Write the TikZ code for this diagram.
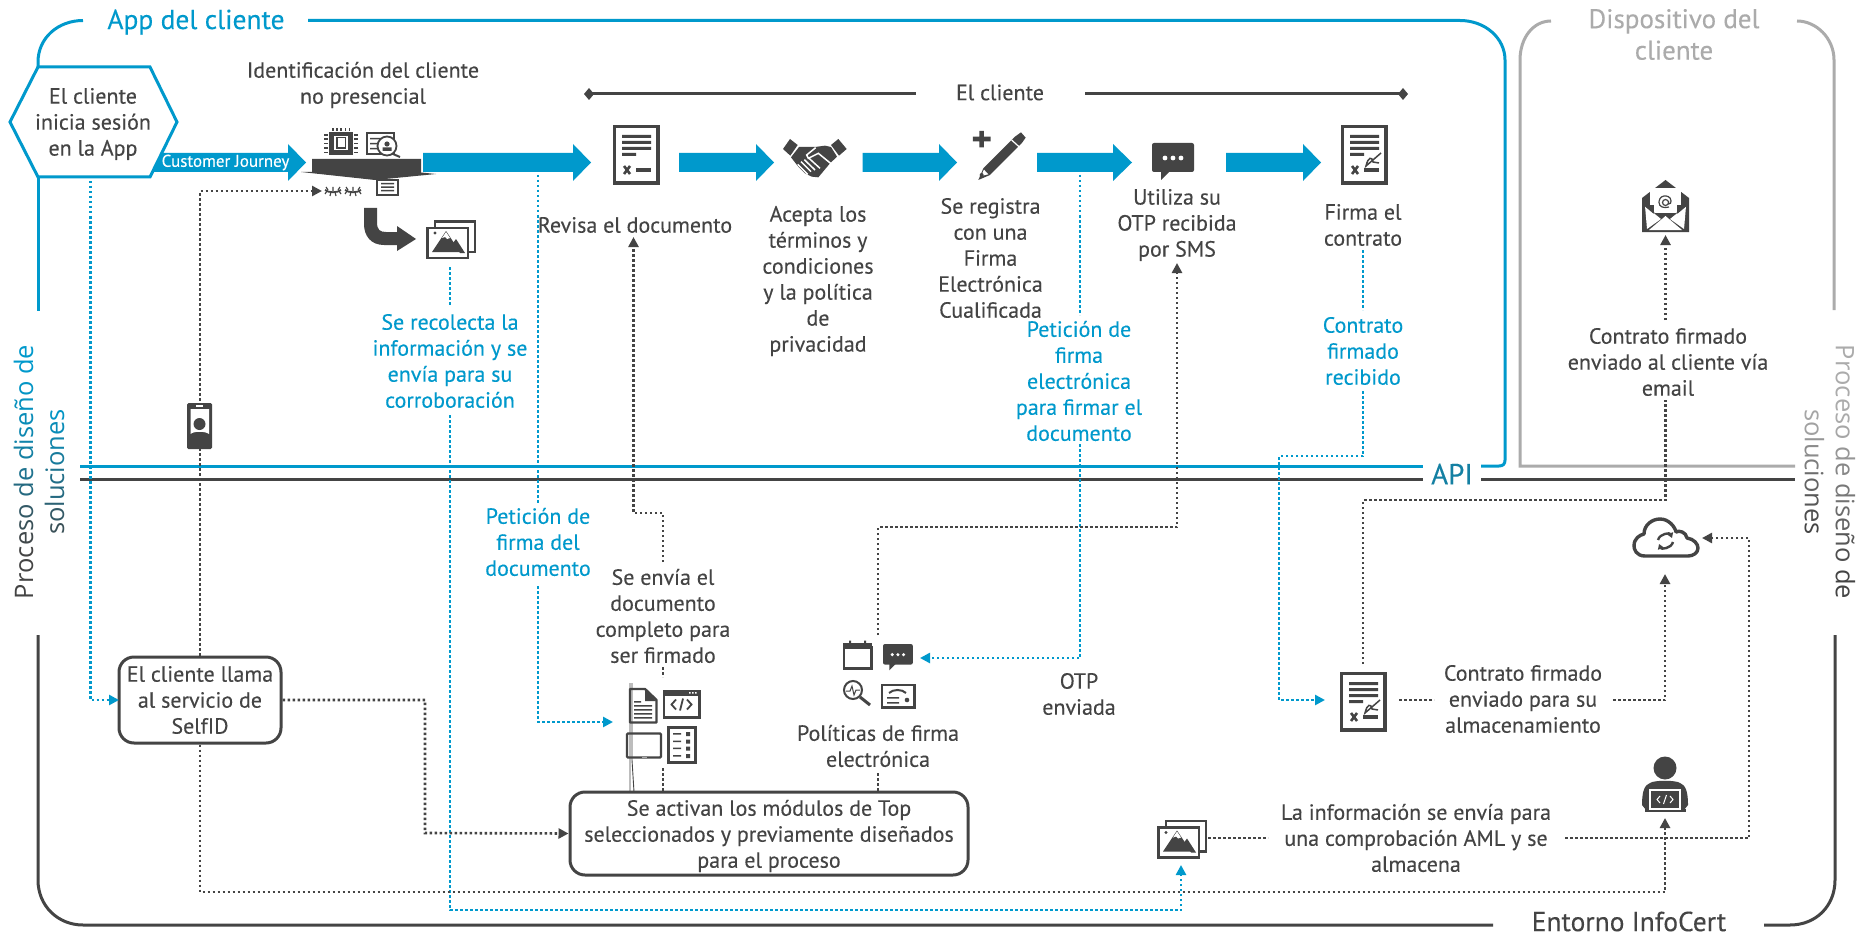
\documentclass[tikz,border=0pt]{standalone}
\usepackage{fontspec}
\setmainfont[FakeBold=0.2]{PT Sans}
\newfontfamily\labfont{Open Sans}
\usetikzlibrary{arrows.meta}
\definecolor{bl}{HTML}{0099CC}
\definecolor{dk}{HTML}{444444}
\definecolor{gy}{HTML}{ABABAB}
\newcommand{\gl}[2]{\textcolor{bl!#1!dk}{#2}}
\newcommand{\gr}[2]{\textcolor{dk!#1!gy}{#2}}
\newcommand{\bigarrow}[3]{\fill[bl] (#1,153)--(#2,153)--(#2,144)--(#3,162.5)--(#2,181)--(#2,172)--(#1,172)--cycle;}
\tikzset{
  x=1pt,y=-1pt,
  txt/.style={align=center,text=dk,font=\fontsize{22}{26}\selectfont,inner sep=0pt,yshift=0pt},
  btxt/.style={txt,text=bl},
  gtxt/.style={txt,text=gy,font=\fontsize{27}{31.5}\selectfont},
  roundbox/.style={draw=dk,line width=3pt,rounded corners=15pt,fill=white},
  bluedot/.style={draw=bl,line width=2.6pt,dash pattern=on 2.5pt off 2.5pt},
  darkdot/.style={draw=dk,line width=2.6pt,dash pattern=on 2.5pt off 2.5pt},
  tipdot/.style={-{Triangle[length=10pt,width=10pt]}},
  frameb/.style={draw=bl,line width=3pt},
  framed/.style={draw=dk,line width=3pt},
  frameg/.style={draw=gy,line width=3pt},
  ic/.style={draw=dk,line width=2.6pt},
  icf/.style={fill=dk},
  docicon/.pic={
    \draw[ic,line width=3.2pt] (1.6,1.6) rectangle (45,58);
    \fill[dk] (9,10) rectangle (38,13) (9,16) rectangle (38,19) (9,22) rectangle (38,25) (9,28) rectangle (23,31);
    \draw[dk,line width=2.6pt] (11,41)--(17,49) (17,41)--(11,49);
    \fill[dk] (23,43) rectangle (38,47);
  },
  signicon/.pic={
    \draw[ic,line width=3.2pt] (1.6,1.6) rectangle (45,58);
    \fill[dk] (9,10) rectangle (38,13) (9,16) rectangle (38,19) (9,22) rectangle (38,25) (9,28) rectangle (23,31);
    \draw[dk,line width=2.6pt] (11,41)--(17,49) (17,41)--(11,49);
    \fill[dk] (23,43) rectangle (38,47);
    \draw[dk,line width=1.5pt] (40,28)--(25,41) .. controls (27,32) and (31,31) .. (32,37) -- (38,38);
  },
  imgicon/.pic={
    \draw[ic] (9,1.3) rectangle (49,32);
    \draw[ic,fill=white] (1.3,8) rectangle (42,38);
    \fill[dk] (6,32)--(20,11)--(34,32)--cycle;
    \fill[white] (20,12)--(16,18)--(19,17)--(21,19)--(24,18)--cycle;
    \fill[dk] (30,19)--(39,33)--(34,33)--(27,23)--cycle;
    \fill[dk] (9,13) circle (1.7);
  },
  chaticon/.pic={
    \fill[dk,rounded corners=2pt] (0,0) rectangle (42,29);
    \fill[dk] (9,28)--(18,28)--(9,37)--cycle;
    \fill[white] (13,15) circle (2.4) (21,15) circle (2.4) (29,15) circle (2.4);
  },
}
\begin{document}
\begin{tikzpicture}
\useasboundingbox (0,0) rectangle (1857,936);
\fill[white] (0,0) rectangle (1857,936);

% frames
\draw[frameb] (83,20.5) .. controls (58,20.5) and (38,38) .. (38,62) -- (38,67);
\draw[frameb] (38,177) -- (38,311);
\draw[frameb] (308,20.5) -- (1460,20.5) .. controls (1485,20.5) and (1505,38) .. (1505,60) -- (1505,460) .. controls (1505,464) and (1503,466) .. (1499,466) -- (1481,466);
\draw[frameb] (80,466) -- (1423,466);
\draw[framed] (80,479.5) -- (1423,479.5);
\draw[framed] (1481,479.5) -- (1795,479.5);
\draw[frameg] (1551,21) .. controls (1533,21) and (1520,38) .. (1520,60) -- (1520,466) -- (1795,466);
\draw[frameg] (1797,21) .. controls (1816,21) and (1834,38) .. (1834,60) -- (1834,310);
\draw[framed] (38,635) -- (38,880) .. controls (38,906) and (58,925) .. (83,925) -- (1493,925);
\draw[framed] (1764,925) -- (1790,925) .. controls (1816,925) and (1835,906) .. (1835,880) -- (1835,635);
\draw[framed] (589,94) -- (916,94);
\draw[framed] (1085,94) -- (1403,94);
\fill[dk] (584,94)--(589,88)--(594,94)--(589,100)--cycle;
\fill[dk] (1398,94)--(1403,88)--(1408,94)--(1403,100)--cycle;

% block arrows
\bigarrow{150}{288}{306}
\bigarrow{423}{573}{591}
\bigarrow{679}{756}{774}
\bigarrow{862.5}{939}{957}
\bigarrow{1037}{1113}{1132}
\bigarrow{1226}{1303}{1321}

% named connector points
\coordinate (hexs) at (90.5,181);
\coordinate (hexw) at (90.5,700);
\coordinate (boxw) at (119,700);
\coordinate (imgs) at (450,267);
\coordinate (imgt) at (450,305);
\coordinate (recb) at (450,415);
\coordinate (recc) at (450,910);
\coordinate (imgr) at (1181,910);
\coordinate (imgb) at (1181,865);
\coordinate (arra) at (538,175);
\coordinate (arrb) at (538,503);
\coordinate (peta) at (538,586);
\coordinate (petb) at (538,722);
\coordinate (doct) at (613,722);
\coordinate (arrc) at (1080,175);
\coordinate (arrd) at (1080,315);
\coordinate (pfa) at (1080,444);
\coordinate (pfb) at (1080,658);
\coordinate (chatr) at (920,658);
\coordinate (fira) at (1363,250);
\coordinate (firb) at (1363,310);
\coordinate (cra) at (1363,391);
\coordinate (crb) at (1363,456);
\coordinate (crc) at (1279,456);
\coordinate (crd) at (1279,700);
\coordinate (sigl) at (1325,700);
\coordinate (eyel) at (322,191);
\coordinate (eyec) at (200,191);
\coordinate (boxec) at (425,700);
\coordinate (boxed) at (425,833);
\coordinate (boxs) at (200,892);
\coordinate (perc) at (1665,892);
\coordinate (perb) at (1665,818);
\coordinate (enva) at (663,562);
\coordinate (envb) at (663,513);
\coordinate (envc) at (633.5,513);
\coordinate (revb) at (633.5,237);
\coordinate (enve) at (663,667);
\coordinate (envf) at (663,677);
\coordinate (modt) at (663,768);
\coordinate (modb) at (663,792);
\coordinate (cala) at (878,635);
\coordinate (calb) at (878,527);
\coordinate (calc) at (1177,527);
\coordinate (otpb) at (1177,263);
\coordinate (pola) at (878,773);
\coordinate (polb) at (878,792);
\coordinate (siga) at (1363,664);
\coordinate (sigb) at (1363,500);
\coordinate (sigc) at (1665.5,500);
\coordinate (sigd) at (1665.5,400);
\coordinate (cfa) at (1665.5,320);
\coordinate (envl) at (1665.5,235);
\coordinate (csa) at (1399,700);
\coordinate (csb) at (1434,700);
\coordinate (csc) at (1613,700);
\coordinate (csd) at (1665,700);
\coordinate (cloudb) at (1665,574);
\coordinate (aia) at (1208,838);
\coordinate (aib) at (1268,838);
\coordinate (aic) at (1565,838);
\coordinate (aid) at (1749,838);
\coordinate (aie) at (1749,538);
\coordinate (cloudr) at (1702,538);

% boxes
\node[roundbox,minimum width=162pt,minimum height=86pt,inner sep=0pt] (selfid) at (200,700) {};
\node[roundbox,minimum width=398pt,minimum height=83pt,inner sep=0pt] (modulos) at (769,833.5) {};

% dotted connectors
\draw[bluedot,tipdot] (hexs) -- (hexw) -- (boxw);
\draw[bluedot] (imgs) -- (imgt);
\draw[bluedot,tipdot] (recb) -- (recc) -- (imgr) -- (imgb);
\draw[bluedot] (arra) -- (arrb);
\draw[bluedot,tipdot] (peta) -- (petb) -- (doct);
\draw[bluedot] (arrc) -- (arrd);
\draw[bluedot,tipdot] (pfa) -- (pfb) -- (chatr);
\draw[bluedot] (fira) -- (firb);
\draw[bluedot,tipdot] (cra) -- (crb) -- (crc) -- (crd) -- (sigl);
\draw[darkdot,tipdot] (selfid.north) -- (eyec) -- (eyel);
\draw[darkdot,tipdot] (selfid.east) -- (boxec) -- (boxed) -- (modulos.west);
\draw[darkdot,tipdot] (selfid.south) -- (boxs) -- (perc) -- (perb);
\draw[darkdot,tipdot] (enva) -- (envb) -- (envc) -- (revb);
\draw[darkdot] (enve) -- (envf);
\draw[darkdot] (modt) -- (modb);
\draw[darkdot,tipdot] (cala) -- (calb) -- (calc) -- (otpb);
\draw[darkdot] (pola) -- (polb);
\draw[darkdot] (siga) -- (sigb) -- (sigc) -- (sigd);
\draw[darkdot,tipdot] (cfa) -- (envl);
\draw[darkdot] (csa) -- (csb);
\draw[darkdot,tipdot] (csc) -- (csd) -- (cloudb);
\draw[darkdot] (aia) -- (aib);
\draw[darkdot,tipdot] (aic) -- (aid) -- (aie) -- (cloudr);

% hexagon
\draw[frameb,fill=white,line join=miter] (10,122)--(38,67)--(150,67)--(177,122)--(150,177)--(38,177)--cycle;

% --- icons ---
% identification cluster
\begin{scope}
\fill[dk] (329,132) rectangle (353,155);
\draw[white,line width=1.4pt] (335,137) rectangle (347,149);
\fill[dk] (336,137) rectangle (346,149);
\fill[white] (337.5,138.5) rectangle (345,147.5);
\foreach \k in {0,1,2,3,4} {
  \fill[dk] ({332+\k*4.2},128) rectangle ({333.6+\k*4.2},131);
  \fill[dk] (324,{134+\k*4.4}) rectangle (328,{135.6+\k*4.4});
  \fill[dk] (354,{134+\k*4.4}) rectangle (358,{135.6+\k*4.4});
}
\draw[dk,line width=1.8pt] (367,133) rectangle (394,154);
\fill[dk] (370,138) rectangle (382,139.5) (370,143) rectangle (379,144.5) (370,148) rectangle (379,149.5);
\draw[dk,line width=1.8pt,fill=white] (387,146) circle (9.5);
\fill[dk] (387,144) circle (2.6) (382.5,151) rectangle (391.5,147.5);
\draw[dk,line width=2pt] (393,154)--(400,157);
\draw[dk,line width=1.6pt] (377,180) rectangle (398,195);
\fill[dk] (381,183) rectangle (394,184.5) (381,186.5) rectangle (394,188) (381,190) rectangle (394,191.5);
\foreach \c in {333,353} {
  \draw[dk,line width=1.8pt] (\c-8,190) .. controls (\c-4,193) and (\c+4,193) .. (\c+8,190);
  \draw[dk,line width=1.2pt] (\c-6,191)--(\c-8,194) (\c-2,192)--(\c-3,196) (\c+2,192)--(\c+3,196) (\c+6,191)--(\c+8,194) (\c-5,190)--(\c-7,187) (\c+5,190)--(\c+7,187) (\c,191)--(\c,187);
}
\fill[dk] (312,159)--(421,159)--(421,172.5)--(436,174)--(375,180)--(301,172)--(312,172)--cycle;
\fill[dk] (364,208)--(377,208)--(377,222) .. controls (377,230) and (380,232) .. (386,232)--(397,232)--(397,226)--(416,239)--(397,251)--(397,245)--(384,245) .. controls (371,245) and (364,236) .. (364,224) -- cycle;
\end{scope}
\pic at (426,220) {imgicon};
\pic at (1157,819.5) {imgicon};
\pic at (613,125) {docicon};
\pic at (1341,125) {signicon};
\pic at (1340,672) {signicon};
\pic at (1152,143) {chaticon};

% handshake
\begin{scope}[shift={(775,125)},x=0.3333pt,y=-0.3333pt]
\fill[dk] (45,42)--(68,60)--(46,92)--(24,72)--cycle;
\fill[dk] (190,42)--(168,60)--(192,92)--(215,72)--cycle;
\fill[dk] (72,66)--(120,66)--(150,62)--(168,66)--(186,95)--(165,115)--(130,157)--(110,155)--(90,145)--(70,125)--(62,115)--(48,97)--cycle;
\draw[white,line width=1.5pt] (122,68)--(95,90)--(100,100)--(130,85)--(168,116);
\draw[white,line width=1.5pt] (78,110)--(108,140) (88,104)--(120,135) (100,98)--(135,130) (68,118)--(98,148);
\end{scope}
% pencil and plus
\begin{scope}[shift={(775,125)},x=0.3333pt,y=-0.3333pt]
\fill[dk] (610,165)--(625,130)--(720,35)--(738,22)--(752,38)--(740,55)--(645,150)--cycle;
\draw[white,line width=1.2pt] (710,45)--(735,68);
\fill[white] (618,153)--(627,134)--(640,148)--cycle;
\fill[dk] (620,150) circle (6);
\fill[dk] (613,18) rectangle (627,67) (594,35) rectangle (647,49);
\end{scope}
% phone
\fill[dk,rounded corners=1.5pt] (187,403) rectangle (212,449);
\fill[white] (190.5,409) -- (209,409) -- (209,434) .. controls (205,431) and (194,431) .. (190.5,434) -- cycle;
\fill[dk] (199.5,424) circle (6);
\fill[white] (196,404.5) rectangle (203,406.5);
% modules cluster
\draw[dk,line width=0.9pt] (630,683)--(630,792) (632,683)--(632,760)--(634,792);
\draw[dk,line width=2.4pt,line join=round] (630,689)--(645,689)--(656.5,700)--(656.5,722.5)--(630,722.5)--cycle;
\fill[dk] (645,689)--(645,701)--(656,701)--cycle;
\fill[dk] (634,701) rectangle (641,702.5) (634,705) rectangle (652,706.5) (634,709) rectangle (652,710.5) (634,713) rectangle (652,714.5) (634,717) rectangle (652,718.5);
\draw[ic,line width=2.4pt] (664,691) rectangle (699.5,717.5);
\fill[dk] (664,690) rectangle (699.5,695.5);
\fill[white] (689,692) rectangle (690.5,693.5) (692,692) rectangle (693.5,693.5) (695,692) rectangle (696.5,693.5);
\draw[dk,line width=1.8pt] (676,699.5)--(671.5,704.5)--(676,709.5) (687,699.5)--(691.5,704.5)--(687,709.5) (683,698.5)--(680,710.5);
\draw[dk,line width=2.4pt,rounded corners=1pt] (627,733.5) rectangle (661,757.5);
\fill[gy] (642,756.5) rectangle (647,758);
\draw[ic,line width=2.4pt] (668.5,727.5) rectangle (695.5,762.5);
\fill[dk] (673,733) rectangle (681,734.5) (673,740.5) rectangle (681,742) (673,747.5) rectangle (681,749) (673,755) rectangle (681,756.5);
\fill[dk] (686,732) rectangle (690,736) (686,739.5) rectangle (690,743.5) (686,746.5) rectangle (690,750.5) (686,754) rectangle (690,758);
% policy cluster
\draw[ic,line width=2.4pt] (844,647) rectangle (871.5,668.5);
\fill[dk] (843,643) rectangle (872,648.5);
\fill[dk] (849,640.5) rectangle (851,645) (864,640.5) rectangle (866,645);
\pic[scale=0.71] at (883,644) {chaticon};
\draw[dk,line width=2pt] (853,690) circle (9);
\draw[dk,line width=1pt] (846,691)--(850,691)--(852,686)--(854,695)--(856,690)--(860,690);
\draw[dk,line width=3pt] (860,697)--(870,705);
\draw[ic,line width=2.4pt] (882,685) rectangle (914.5,707.5);
\draw[dk,line width=2pt] (889,693) .. controls (893,689) and (902,689) .. (906,693);
\fill[dk] (887,697) rectangle (899,698.5) (887,702) rectangle (899,703.5);
\fill[dk] (907,700) circle (2.3);
% email
\fill[dk] (1642,198)--(1665.5,180)--(1689,198)--(1689,232)--(1642,232)--cycle;
\fill[white] (1650,188) rectangle (1681,205);
\fill[white] (1654,189) rectangle (1677,213);
\fill[white] (1645,206)--(1661,219)--(1647,229)--cycle (1686,206)--(1670,219)--(1684,229)--cycle;
\fill[white] (1649,230)--(1665.5,216)--(1682,230)--cycle;
\draw[dk,line width=1.6pt] (1645,205.5)--(1654,213) (1686,205.5)--(1677,213);
\draw[dk,line width=1.2pt] (1665.5,202.5) circle (3) (1668.5,201)--(1668.5,204) .. controls (1670.5,205) and (1671,202) .. (1671,201) .. controls (1671,196.5) and (1666,195.5) .. (1664,196) .. controls (1659.5,196.5) and (1659,201) .. (1659,202.5) .. controls (1659,207) and (1664,208.5) .. (1669,207);
% cloud
\draw[dk,line width=3.4pt,fill=white,line join=round] (1645,556) .. controls (1636,556) and (1634,549) .. (1634,546) .. controls (1634,538) and (1640,535) .. (1644,534) .. controls (1644,525) and (1652,519) .. (1660,519) .. controls (1669,519) and (1675,527) .. (1676,532) .. controls (1679,530) and (1686,532) .. (1687,538) .. controls (1694,539) and (1698,544) .. (1698,548) .. controls (1698,553) and (1693,556) .. (1688,556) -- cycle;
\draw[dk,line width=2.4pt,-{Triangle[length=5pt,width=6pt]}] (1658,540) .. controls (1660,533) and (1670,533) .. (1672,538);
\draw[dk,line width=2.4pt,-{Triangle[length=5pt,width=6pt]}] (1673,542) .. controls (1671,549) and (1661,549) .. (1659,544);
% person
\fill[dk] (1665,768) ellipse (11.5 and 11.5);
\fill[dk] (1650,783) .. controls (1654,780) and (1676,780) .. (1680,783) .. controls (1685,785) and (1688,790) .. (1688,805) -- (1684,810) -- (1646,810) -- (1642,805) .. controls (1642,790) and (1645,785) .. (1650,783) -- cycle;
\fill[dk] (1645,809) rectangle (1686,812);
\draw[white,line width=1.2pt,fill=dk] (1650,790) rectangle (1680,809);
\draw[white,line width=1pt] (1660,796)--(1657,799.5)--(1660,803) (1670,796)--(1673,799.5)--(1670,803) (1666.5,795)--(1663.5,804);

% --- texts ---
\node[text=bl,inner sep=0pt,font=\fontsize{27.5}{30}\selectfont] (tapp) at (196,22) {App del cliente};
\node[gtxt] (tdisp) at (1674,34.5) {Dispositivo del\\cliente};
\node[txt,font=\fontsize{27.5}{30}\selectfont,text=dk] (tento) at (1629,921.5) {Entorno InfoCert};
\node[inner sep=0pt,font=\fontsize{29}{30}\selectfont,text=bl!70!dk] (tapi) at (1452,474) {API};
\node[txt] (thex) at (93,124) {El cliente\\inicia sesión\\en la App};
\node[inner sep=0pt,text=white,font=\fontsize{17}{18}\selectfont] (tcj) at (225.5,162.5) {Customer Journey};
\node[txt] (tid) at (363,85) {Identificación del cliente\\no presencial};
\node[txt] (tel) at (1000,92.5) {El cliente};
\node[txt] (trev) at (635,225) {Revisa el documento};
\node[txt] (tac) at (818,281) {Acepta los\\términos y\\condiciones\\y la política\\de\\privacidad};
\node[txt] (tse) at (990.5,258) {Se registra\\con una\\Firma\\Electrónica\\Cualificada};
\node[txt] (tut) at (1177,225) {Utiliza su\\OTP recibida\\por SMS};
\node[txt] (tfi) at (1363,225) {Firma el\\contrato};
\node[btxt] (treco) at (450,361) {Se recolecta la\\información y se\\envía para su\\corroboración};
\node[btxt] (tpet) at (538,542) {Petición de\\firma del\\documento};
\node[btxt] (tpef) at (1079,381) {Petición de\\firma\\electrónica\\para firmar el\\documento};
\node[btxt] (tcon) at (1363,351) {Contrato\\firmado\\recibido};
\node[txt] (tenv) at (663,616) {Se envía el\\documento\\completo para\\ser firmado};
\node[txt] (tcfe) at (1668,362) {Contrato firmado\\enviado al cliente vía\\email};
\node[txt] (totp) at (1079,694) {OTP\\enviada};
\node[txt] (tpol) at (878,746) {Políticas de firma\\electrónica};
\node[txt] (tsel) at (200,700) {El cliente llama\\al servicio de\\SelfID};
\node[txt] (tmod) at (769,836) {Se activan los módulos de Top\\seleccionados y previamente diseñados\\para el proceso};
\node[txt] (tcal) at (1523,699) {Contrato firmado\\enviado para su\\almacenamiento};
\node[txt] (taml) at (1416,838) {La información se envía para\\una comprobación AML y se\\almacena};

% rotated gradient labels
\node[rotate=90,inner sep=0pt,align=center,font=\labfont\fontsize{25.5}{31}\selectfont] (lleft) at (39,472) {%
\gl{0}{P}\gl{0}{r}\gl{0}{o}\gl{0}{c}\gl{5}{e}\gl{15}{s}\gl{25}{o} \gl{45}{d}\gl{55}{e} \gl{70}{d}\gl{75}{i}\gl{80}{s}\gl{85}{e}\gl{90}{ñ}\gl{95}{o} \gl{100}{d}\gl{100}{e}\\
\gl{15}{s}\gl{25}{o}\gl{35}{l}\gl{45}{u}\gl{50}{c}\gl{55}{i}\gl{65}{o}\gl{75}{n}\gl{85}{e}\gl{95}{s}};
\node[rotate=-90,inner sep=0pt,align=center,font=\labfont\fontsize{25.5}{31}\selectfont] (lright) at (1830,472) {%
\gr{0}{P}\gr{0}{r}\gr{0}{o}\gr{0}{c}\gr{0}{e}\gr{0}{s}\gr{5}{o} \gr{20}{d}\gr{35}{e} \gr{50}{d}\gr{55}{i}\gr{60}{s}\gr{70}{e}\gr{80}{ñ}\gr{90}{o} \gr{100}{d}\gr{100}{e}\\
\gr{5}{s}\gr{10}{o}\gr{20}{l}\gr{30}{u}\gr{45}{c}\gr{60}{i}\gr{70}{o}\gr{80}{n}\gr{90}{e}\gr{100}{s}};
\end{tikzpicture}
\end{document}
